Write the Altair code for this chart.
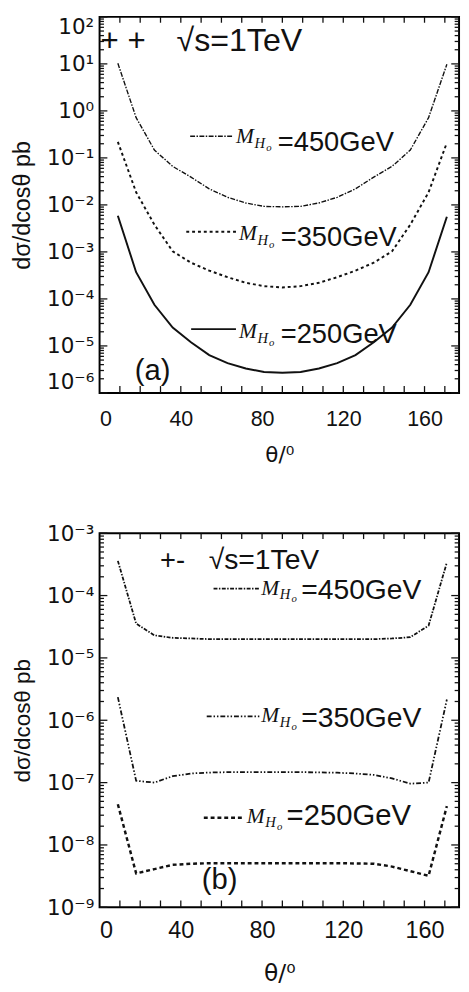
import altair as alt
import pandas as pd

# ---------------- data ----------------
theta = [9, 18, 27, 36, 45, 54, 63, 72, 81, 90, 99, 108, 117, 126, 135, 144, 153, 162, 171]

pp_450 = [10.3, 0.72, 0.147, 0.066, 0.039, 0.022, 0.0145, 0.011, 0.0093, 0.0091,
          0.0093, 0.011, 0.0145, 0.022, 0.039, 0.066, 0.147, 0.72, 9.8]
pp_350 = [0.22, 0.0186, 0.0038, 1.03e-3, 5.9e-4, 4.0e-4, 2.9e-4, 2.2e-4, 1.87e-4, 1.75e-4,
          1.87e-4, 2.2e-4, 2.9e-4, 4.0e-4, 5.9e-4, 1.03e-3, 0.0038, 0.0186, 0.21]
pp_250 = [5.9e-3, 3.7e-4, 7.5e-5, 2.45e-5, 1.2e-5, 6.4e-6, 4.3e-6, 3.3e-6, 2.8e-6, 2.7e-6,
          2.8e-6, 3.3e-6, 4.3e-6, 6.4e-6, 1.2e-5, 2.45e-5, 7.5e-5, 3.7e-4, 5.6e-3]

pm_450 = [3.6e-4, 3.55e-5, 2.3e-5, 2.1e-5, 2.05e-5, 2.0e-5, 2.0e-5, 2.0e-5, 2.0e-5, 2.0e-5,
          2.0e-5, 2.0e-5, 2.0e-5, 2.0e-5, 2.0e-5, 2.05e-5, 2.15e-5, 3.3e-5, 3.4e-4]
pm_350 = [2.35e-6, 1.07e-7, 1.0e-7, 1.27e-7, 1.4e-7, 1.45e-7, 1.47e-7, 1.47e-7, 1.47e-7, 1.47e-7,
          1.47e-7, 1.46e-7, 1.44e-7, 1.4e-7, 1.33e-7, 1.17e-7, 9.6e-8, 1.0e-7, 2.15e-6]
pm_250 = [4.5e-8, 3.5e-9, 4.1e-9, 4.8e-9, 5.0e-9, 5.1e-9, 5.1e-9, 5.1e-9, 5.1e-9, 5.1e-9,
          5.1e-9, 5.1e-9, 5.1e-9, 5.05e-9, 5.0e-9, 4.5e-9, 3.8e-9, 3.2e-9, 4.2e-8]

x_labels = [0, 40, 80, 120, 160]
x_minor = [10, 20, 30, 40, 50, 60, 70, 80, 90, 100, 110, 120, 130, 140, 150, 160, 170]
top_exps = [2, 1, 0, -1, -2, -3, -4, -5, -6]
bot_exps = [-3, -4, -5, -6, -7, -8, -9]

INK = "#111111"
SANS = "Liberation Sans"
SERIF = "Liberation Serif"

SUP = {"-": "\u207b", "0": "\u2070", "1": "\u00b9", "2": "\u00b2", "3": "\u00b3",
       "4": "\u2074", "5": "\u2075", "6": "\u2076", "7": "\u2077", "8": "\u2078", "9": "\u2079"}


def sup(n):
    return "".join(SUP[c] for c in str(n))


E = "round(log(datum.value)/LN10)"
label_expr = "".join(f"({E}=={k}) ? '10{sup(k)}' : " for k in range(2, -10, -1)) + "''"

DUMMY = pd.DataFrame({"d": [0]})


def panel(series, styles, ydom, exps, W, H, texts_sans, texts_serif, samples,
          ylab_size, ytitle_size, xlab_size, xtitle_size, flush, xlab_pad, xtitle_pad):
    xs = alt.Scale(domain=[0, 177], nice=False, zero=False)
    ys = alt.Scale(type="log", domain=ydom, nice=False)
    majors = [10.0 ** k for k in exps]
    minors = [m * 10.0 ** k for k in exps[1:] for m in range(2, 10)]

    xax = alt.Axis(values=x_labels, ticks=False, tickSize=0, domain=False, grid=False,
                   labelFont=SANS, labelFontSize=xlab_size, labelColor=INK,
                   labelPadding=xlab_pad, title="\u03b8/\u2070", titleFont="DejaVu Sans",
                   titleFontSize=xtitle_size, titleFontWeight="normal",
                   titleColor=INK, titlePadding=xtitle_pad)
    yax = alt.Axis(values=majors, labelExpr=label_expr, ticks=False, tickSize=0,
                   domain=False, grid=False, labelFont="DejaVu Sans",
                   labelFontSize=ylab_size, labelColor=INK, labelPadding=6,
                   labelFlush=flush, title="d\u03c3/dcos\u03b8 pb", titleFont=SANS,
                   titleFontSize=ytitle_size, titleFontWeight="normal",
                   titleColor=INK, titlePadding=12)

    def X(f):
        return alt.X(f, type="quantitative", scale=xs, axis=xax)

    def Y(f):
        return alt.Y(f, type="quantitative", scale=ys, axis=yax)

    layers = []
    for vals, st in zip(series, styles):
        df = pd.DataFrame({"theta": theta, "v": vals})
        layers.append(alt.Chart(df).mark_line(color=INK, **st).encode(
            x=X("theta"), y=Y("v")))

    # inward ticks
    ymaj = pd.DataFrame({"v": majors})
    ymin = pd.DataFrame({"v": minors})
    xt = pd.DataFrame({"theta": x_minor})
    for d, ln in ((ymaj, 8), (ymin, 4.5)):
        layers.append(alt.Chart(d).mark_rule(color=INK, strokeWidth=1.3).encode(
            y=Y("v"), x=alt.value(0), x2=alt.value(ln)))
        layers.append(alt.Chart(d).mark_rule(color=INK, strokeWidth=1.3).encode(
            y=Y("v"), x=alt.value(W), x2=alt.value(W - ln)))
    layers.append(alt.Chart(xt).mark_rule(color=INK, strokeWidth=1.3).encode(
        x=X("theta"), y=alt.value(H), y2=alt.value(H - 7)))
    layers.append(alt.Chart(xt).mark_rule(color=INK, strokeWidth=1.3).encode(
        x=X("theta"), y=alt.value(0), y2=alt.value(6)))

    # legend sample lines
    for (x1, x2, yy), st in zip(samples, styles):
        layers.append(alt.Chart(DUMMY).mark_rule(color=INK, **st).encode(
            x=alt.value(x1), x2=alt.value(x2), y=alt.value(yy)))

    for t, x, y, s in texts_sans:
        layers.append(alt.Chart(DUMMY).mark_text(
            font=SANS, fontSize=s, color=INK, align="left", baseline="alphabetic", text=t
        ).encode(x=alt.value(x), y=alt.value(y)))
    for t, x, y, s in texts_serif:
        layers.append(alt.Chart(DUMMY).mark_text(
            font=SERIF, fontStyle="italic", fontSize=s, color=INK, align="left",
            baseline="alphabetic", text=t
        ).encode(x=alt.value(x), y=alt.value(y)))

    return alt.layer(*layers).properties(width=W, height=H)


def mlabel(x, y):
    return [("M", x, y, 22), ("H", x + 19, y + 5, 15), ("o", x + 31, y + 8, 11)]


# top panel (++)
top_styles = [
    dict(strokeWidth=1.4, strokeDash=[5, 1.5, 1.5, 1.5]),
    dict(strokeWidth=2, strokeDash=[3, 3]),
    dict(strokeWidth=2),
]
top_sans = [
    ("+ +", 1, 35.5, 32),
    ("\u221as=1TeV", 79, 35.5, 33),
    ("=450GeV", 183, 137.5, 28),
    ("=350GeV", 186, 235.5, 28),
    ("=250GeV", 186, 334.5, 28),
    ("(a)", 36, 372.5, 30),
]
top_serif = mlabel(140, 129.5) + mlabel(143, 229.5) + mlabel(143, 329.5)
top_samples = [(93, 137, 122.5), (89, 140, 220.5), (94, 140, 320.5)]

top = panel([pp_450, pp_350, pp_250], top_styles, [1e-6, 1e2], top_exps, 369, 386,
            top_sans, top_serif, top_samples, 22, 24, 22, 22, True, 16, 16)

# bottom panel (+-)
bot_styles = [
    dict(strokeWidth=1.8, strokeDash=[4, 1.5, 1.5, 1.5]),
    dict(strokeWidth=1.8, strokeDash=[5, 2, 1.5, 2, 1.5, 2]),
    dict(strokeWidth=2.5, strokeDash=[4, 3]),
]
bot_sans = [
    ("+-", 62, 37, 28),
    ("\u221as=1TeV", 112, 37, 29),
    ("=450GeV", 207, 68, 29),
    ("=350GeV", 207, 199, 29),
    ("=250GeV", 192, 300, 30),
    ("(b)", 105, 365, 30),
]
bot_serif = mlabel(166, 63) + mlabel(166, 194) + mlabel(151, 297)
bot_samples = [(117, 164, 57), (110, 164, 188), (107, 149, 292)]

bottom = panel([pm_450, pm_350, pm_250], bot_styles, [1e-9, 1e-3], bot_exps, 369, 384,
               bot_sans, bot_serif, bot_samples, 22, 23, 24, 24, False, 12, 20)

chart = alt.vconcat(top, bottom, spacing=57).properties(
    padding={"left": 2, "top": -6, "right": 0, "bottom": 0},
    background="white",
).configure_view(stroke="#000000", strokeWidth=2)

chart.save("out.html", embed_options={"renderer": "svg", "actions": False})
